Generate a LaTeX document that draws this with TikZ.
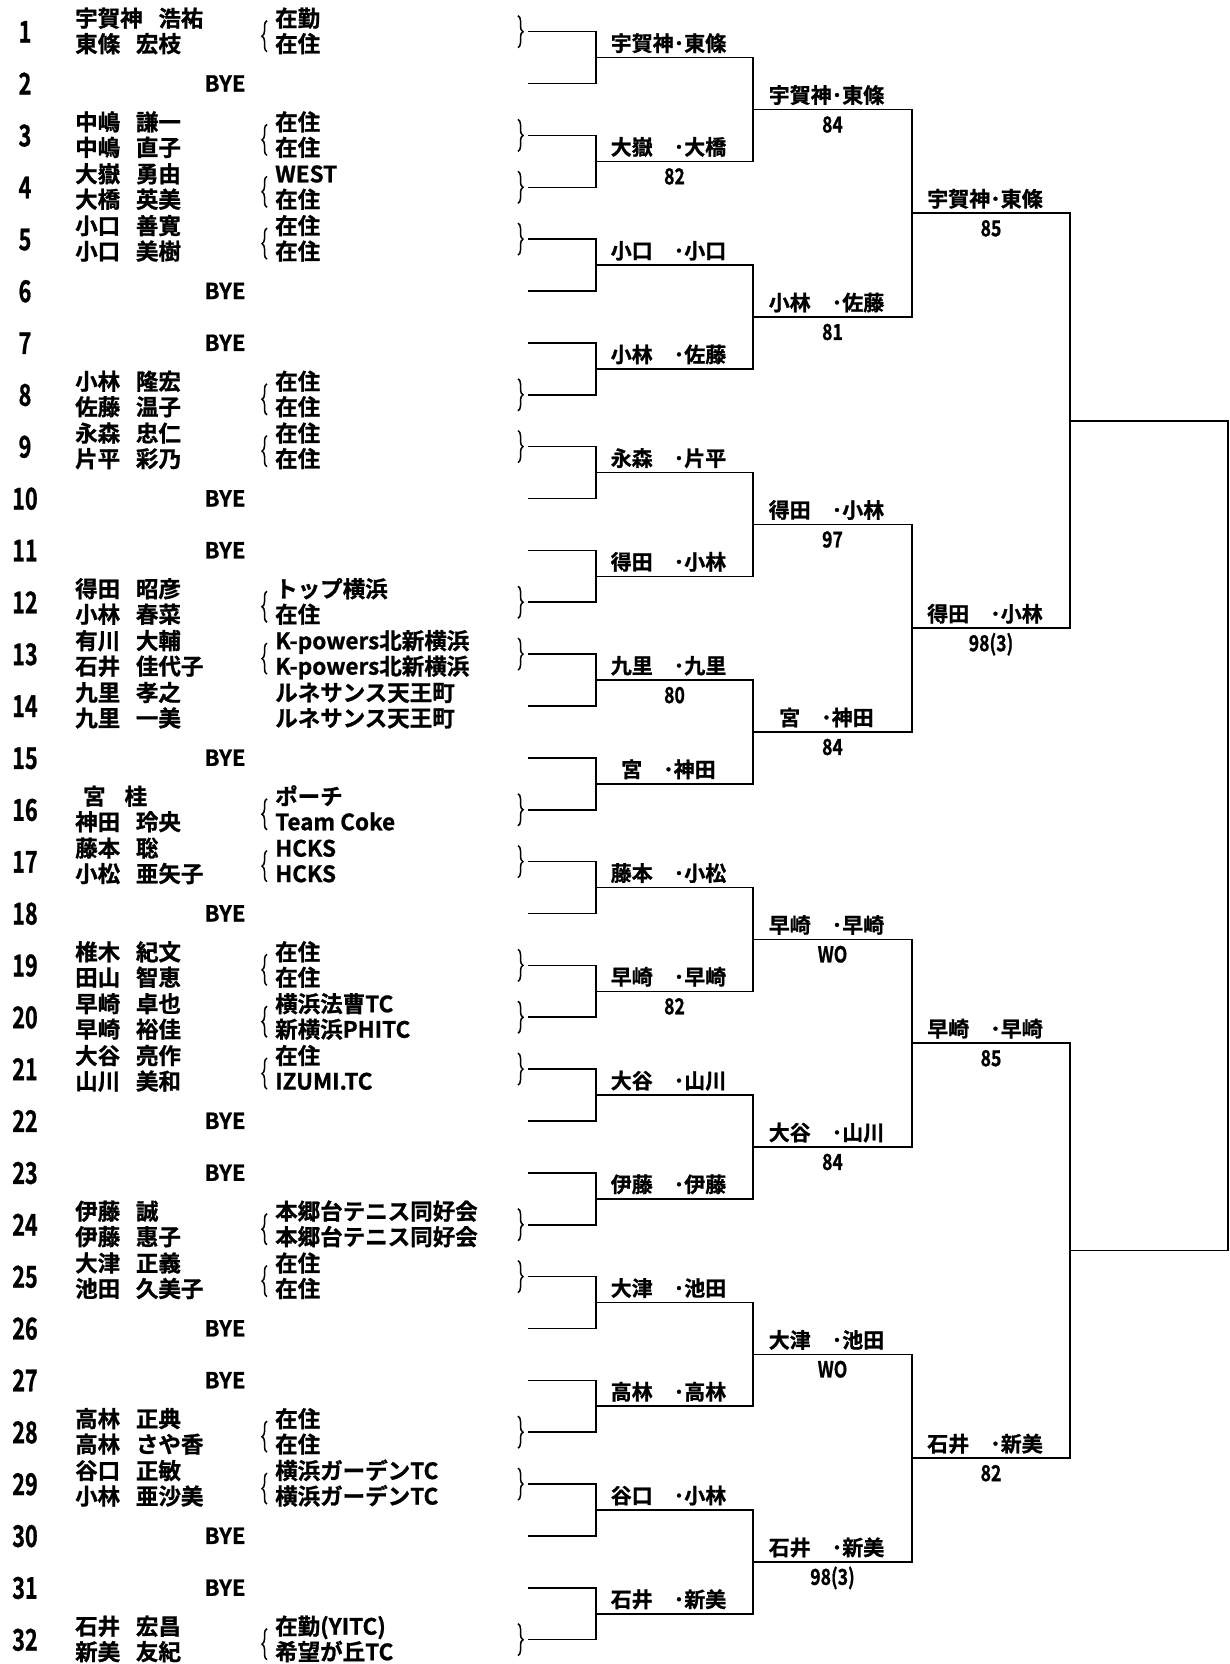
\documentclass[tikz,border=0pt]{standalone}
\usepackage{fontspec}
\setmainfont{Noto Sans CJK JP}[BoldFont={Noto Sans CJK JP Bold},BoldFeatures={FakeBold=1}]
\usetikzlibrary{calc,decorations.pathreplacing}
\newcommand{\nmgap}{\hspace{0.7em}}
\newcommand{\rowy}[1]{-31.7-(#1-1)*51.87}

\begin{document}
\begin{tikzpicture}[x=1pt,y=1pt,
    entry/.style={font=\fontsize{22.5}{22.5}\selectfont\bfseries,inner sep=0pt,anchor=base west},
    bye/.style={font=\fontsize{22}{22}\selectfont\bfseries,inner sep=0pt,anchor=base},
    seed/.style={font=\fontsize{30}{30}\selectfont\bfseries,inner sep=0pt,anchor=base,xscale=0.72},
    win/.style={font=\fontsize{21}{21}\selectfont\bfseries,inner sep=0pt,anchor=base},
    score/.style={font=\fontsize{22}{22}\selectfont\bfseries,inner sep=0pt,anchor=base,xscale=0.8},
    wire/.style={line width=1.6pt,line cap=rect},
    curly/.style={line width=1.5pt,decorate,decoration={brace,amplitude=5pt}}]
  \useasboundingbox (0,0) rectangle (1229,-1664);

  % draw numbers and first wires
  \foreach \i in {1,...,32}{
    \node[seed] (n\i) at (25,{\rowy{\i}-11}) {\i};
    \coordinate (e\i) at (529,{\rowy{\i}});
    \coordinate (r0-\i) at (596,{\rowy{\i}});
    \draw[wire] (e\i) -- (r0-\i);
  }

  % byes
  \foreach \i in {2,6,7,10,11,15,18,22,23,26,27,30,31}
    \node[bye] (bye\i) at (225,{\rowy{\i}-8}) {BYE};

  % pairs and clubs
  \foreach \i/\pa/\pb/\ca/\cb in {
      1/宇賀神\nmgap 浩祐/東條\nmgap 宏枝/在勤/在住,
      3/中嶋\nmgap 謙一/中嶋\nmgap 直子/在住/在住,
      4/大嶽\nmgap 勇由/大橋\nmgap 英美/WEST/在住,
      5/小口\nmgap 善寛/小口\nmgap 美樹/在住/在住,
      8/小林\nmgap 隆宏/佐藤\nmgap 温子/在住/在住,
      9/永森\nmgap 忠仁/片平\nmgap 彩乃/在住/在住,
      12/得田\nmgap 昭彦/小林\nmgap 春菜/トップ横浜/在住,
      13/有川\nmgap 大輔/石井\nmgap 佳代子/K-powers北新横浜/K-powers北新横浜,
      14/九里\nmgap 孝之/九里\nmgap 一美/ルネサンス天王町/ルネサンス天王町,
      16/\hspace{0.35em}宮\hspace{0.85em}桂/神田\nmgap 玲央/ポーチ/Team Coke,
      17/藤本\nmgap 聡/小松\nmgap 亜矢子/HCKS/HCKS,
      19/椎木\nmgap 紀文/田山\nmgap 智恵/在住/在住,
      20/早崎\nmgap 卓也/早崎\nmgap 裕佳/横浜法曹TC/新横浜PHITC,
      21/大谷\nmgap 亮作/山川\nmgap 美和/在住/IZUMI.TC,
      24/伊藤\nmgap 誠/伊藤\nmgap 惠子/本郷台テニス同好会/本郷台テニス同好会,
      25/大津\nmgap 正義/池田\nmgap 久美子/在住/在住,
      28/高林\nmgap 正典/高林\nmgap さや香/在住/在住,
      29/谷口\nmgap 正敏/小林\nmgap 亜沙美/横浜ガーデンTC/横浜ガーデンTC,
      32/石井\nmgap 宏昌/新美\nmgap 友紀/在勤(YITC)/希望が丘TC}{
    \node[entry] (pa\i) at (75,{\rowy{\i}+5}) {\pa};
    \node[entry] (pb\i) at (75,{\rowy{\i}-20.5}) {\pb};
    \node[entry] (ca\i) at (275,{\rowy{\i}+5}) {\ca};
    \node[entry] (cb\i) at (275,{\rowy{\i}-20.5}) {\cb};
  }

  % braces
  \foreach \i in {1,3,4,5,8,9,12,13,16,17,19,20,21,24,25,28,29,32}{
    \draw[curly] (267,{\rowy{\i}-20}) -- (267,{\rowy{\i}+11});
    \draw[curly] (518,{\rowy{\i}+16}) -- (518,{\rowy{\i}-16});
  }

  % bracket rounds
  \foreach \n/\cnt/\dx in {1/16/157,2/8/159,3/4/158,4/2/158}{
    \pgfmathtruncatemacro{\prv}{\n-1}
    \foreach \k in {1,...,\cnt}{
      \pgfmathtruncatemacro{\a}{2*\k-1}
      \pgfmathtruncatemacro{\b}{2*\k}
      \coordinate (j\n-\k) at ($(r\prv-\a)!0.5!(r\prv-\b)$);
      \coordinate (r\n-\k) at ($(j\n-\k)+(\dx,0)$);
      \draw[wire] (r\prv-\a) -- (r\prv-\b) (j\n-\k) -- (r\n-\k);
    }
  }
  \draw[wire] (r4-1) -- (r4-2);

  % winners
  \foreach \w [count=\k] in {宇賀神･東條,大嶽　･大橋,小口　･小口,小林　･佐藤,
      永森　･片平,得田　･小林,九里　･九里,宮　･神田,藤本　･小松,早崎　･早崎,
      大谷　･山川,伊藤　･伊藤,大津　･池田,高林　･高林,谷口　･小林,石井　･新美}
    \node[win] (w1-\k) at ($(j1-\k)!0.5!(r1-\k)+(-6,6.5)$) {\w};
  \foreach \w [count=\k] in {宇賀神･東條,小林　･佐藤,得田　･小林,宮　･神田,
      早崎　･早崎,大谷　･山川,大津　･池田,石井　･新美}
    \node[win] (w2-\k) at ($(j2-\k)!0.5!(r2-\k)+(-6,6.5)$) {\w};
  \foreach \w [count=\k] in {宇賀神･東條,得田　･小林,早崎　･早崎,石井　･新美}
    \node[win] (w3-\k) at ($(j3-\k)!0.5!(r3-\k)+(-6,6.5)$) {\w};

  % scores
  \foreach \n/\k/\s in {1/2/82,1/7/80,1/10/82,2/1/84,2/2/81,2/3/97,2/4/84,2/5/WO,
      2/6/84,2/7/WO,2/8/98(3),3/1/85,3/2/98(3),3/3/85,3/4/82}
    \node[score] (s\n-\k) at ($(j\n-\k)!0.5!(r\n-\k)+(0,-23)$) {\s};
\end{tikzpicture}
\end{document}
